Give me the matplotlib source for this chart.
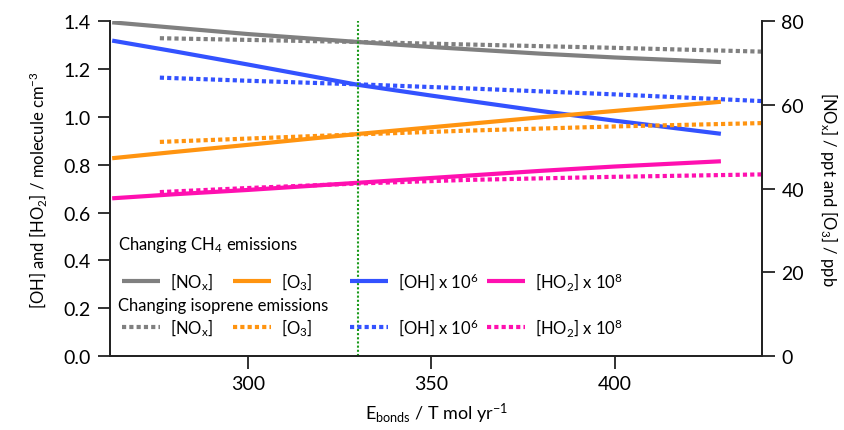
import matplotlib
matplotlib.use('Agg')
import matplotlib.pyplot as plt
from matplotlib.lines import Line2D
from matplotlib.legend import Legend

plt.rcParams['font.family'] = ['Lato', 'DejaVu Sans']
plt.rcParams['mathtext.default'] = 'regular'

# changing CH4 emissions (solid)
e_ch4 = [263, 280, 300, 330, 350, 380, 400, 429]
nox_ch4 = [79.8, 78.5, 77.0, 75.1, 73.9, 72.3, 71.4, 70.3]
o3_ch4 = [47.3, 48.8, 50.5, 53.1, 54.7, 57.1, 58.6, 60.8]
oh_ch4 = [1.32, 1.275, 1.22, 1.135, 1.09, 1.025, 0.985, 0.93]
ho2_ch4 = [0.66, 0.677, 0.695, 0.725, 0.745, 0.775, 0.793, 0.815]

# changing isoprene emissions (dotted)
e_iso = [276, 300, 330, 360, 400, 440]
nox_iso = [76.0, 75.6, 75.1, 74.5, 73.7, 72.8]
o3_iso = [51.2, 52.0, 53.0, 53.9, 54.9, 55.7]
oh_iso = [1.165, 1.152, 1.137, 1.12, 1.095, 1.067]
ho2_iso = [0.686, 0.703, 0.722, 0.737, 0.75, 0.76]

e_ref = 330

c_nox = '#808080'
c_o3 = '#ff9410'
c_oh = '#3352ff'
c_ho2 = '#ff10b0'
dots = (0, (1.0, 0.75))
lw = 3.0

fig = plt.figure(figsize=(8.44, 4.31), dpi=100)
ax = fig.add_axes([0.1303, 0.1717, 0.7725, 0.7761])
ax2 = ax.twinx()

ax.plot(e_ch4, oh_ch4, color=c_oh, lw=lw, solid_capstyle='butt')
ax.plot(e_ch4, ho2_ch4, color=c_ho2, lw=lw, solid_capstyle='butt')
ax.plot(e_iso, oh_iso, color=c_oh, lw=lw, ls=dots, dash_capstyle='butt')
ax.plot(e_iso, ho2_iso, color=c_ho2, lw=lw, ls=dots, dash_capstyle='butt')

ax2.plot(e_ch4, nox_ch4, color=c_nox, lw=lw, solid_capstyle='butt')
ax2.plot(e_ch4, o3_ch4, color=c_o3, lw=lw, solid_capstyle='butt')
ax2.plot(e_iso, nox_iso, color=c_nox, lw=lw, ls=dots, dash_capstyle='butt')
ax2.plot(e_iso, o3_iso, color=c_o3, lw=lw, ls=dots, dash_capstyle='butt')
ax2.axvline(e_ref, color='#1a9a1a', lw=1.5, ls=(0, (1, 1)))

ax.set_xlim(262.4, 440.2)
ax.set_ylim(0, 1.4)
ax2.set_ylim(0, 80)
ax.set_xticks([300, 350, 400])
ax.set_yticks([0, 0.2, 0.4, 0.6, 0.8, 1.0, 1.2, 1.4])
ax.set_yticklabels(['%.1f' % v for v in ax.get_yticks()])
ax2.set_yticks([0, 20, 40, 60, 80])

for a in (ax, ax2):
    a.spines['top'].set_visible(False)
    for s in a.spines.values():
        s.set_linewidth(1.3)
        s.set_color('#222222')
    a.tick_params(length=9, width=1.3, labelsize=14, color='#222222', pad=5)

ax.set_xlabel('E$_{bonds}$ / T mol yr$^{-1}$', fontsize=13, labelpad=6)
ax.set_ylabel('[OH] and [HO$_2$] / molecule cm$^{-3}$', fontsize=12, labelpad=10)
ax2.set_ylabel('[NO$_x$] / ppt and [O$_3$] / ppb', fontsize=12, rotation=270,
               va='bottom', labelpad=10)

# legend
ax2.text(0.012, 0.335, 'Changing CH$_4$ emissions', transform=ax2.transAxes,
         fontsize=12, va='center')
ax2.text(0.012, 0.152, 'Changing isoprene emissions', transform=ax2.transAxes,
         fontsize=12, va='center')

items = [(c_nox, '[NO$_x$]', 0.018),
         (c_o3, '[O$_3$]', 0.188),
         (c_oh, '[OH] x 10$^6$', 0.368),
         (c_ho2, '[HO$_2$] x 10$^8$', 0.578)]
for col, lab, xpos in items:
    for style, ypos in (('-', 0.224), (dots, 0.087)):
        h = Line2D([], [], color=col, lw=lw, ls=style, dash_capstyle='butt',
                   solid_capstyle='butt')
        leg = Legend(ax2, [h], [lab], loc='center left', bbox_to_anchor=(xpos, ypos),
                     frameon=False, fontsize=12, handlelength=2.3,
                     handletextpad=0.6, borderpad=0, borderaxespad=0)
        ax2.add_artist(leg)

fig.savefig('out.png', dpi=100)
